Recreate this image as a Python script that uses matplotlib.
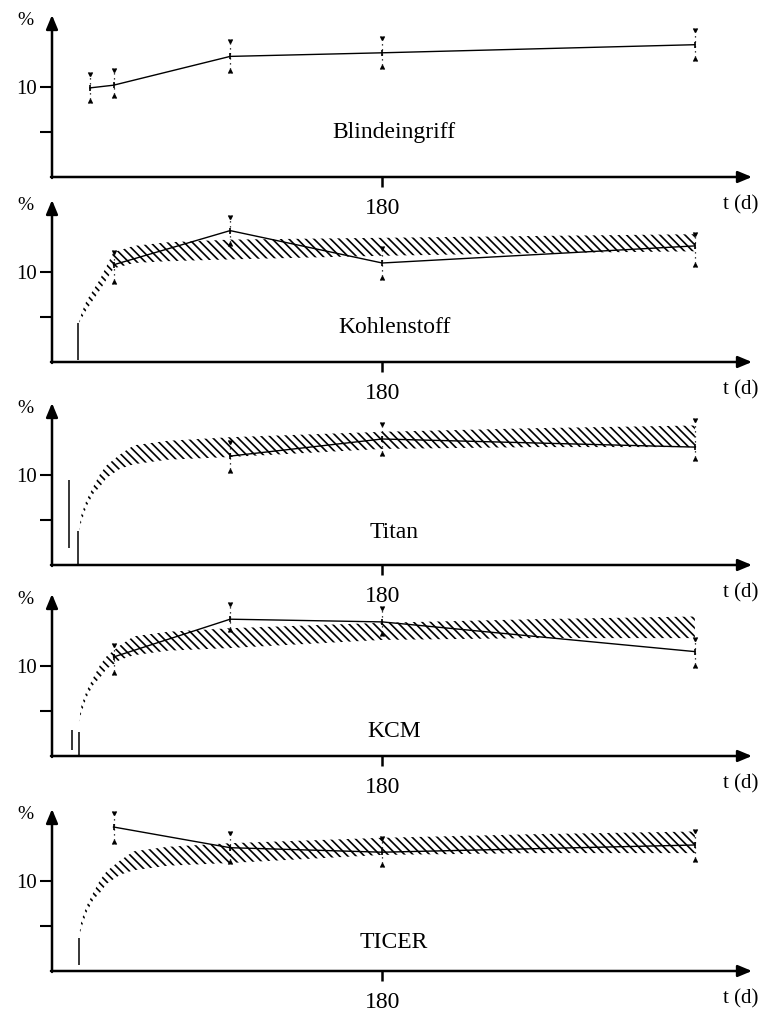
import matplotlib
matplotlib.use("Agg")
import matplotlib.pyplot as plt

plt.rcParams.update({"font.family": ["Liberation Serif", "DejaVu Serif"],
                     "hatch.linewidth": 1.2})

NAMES = ["Blindeingriff", "Kohlenstoff", "Titan", "KCM", "TICER"]

# days after implantation, values in %
BLIND_T = [7, 21, 90, 180, 365]
BLIND_Y = [9.9, 10.2, 13.4, 13.8, 14.7]
BLIND_HI = [11.2, 11.7, 14.9, 15.2, 16.1]
BLIND_LO = [8.7, 9.2, 12.0, 12.4, 13.3]

KOHLE_T = [21, 90, 180, 365]
KOHLE_Y = [10.8, 14.6, 11.0, 12.9]
KOHLE_HI = [12.0, 15.9, 12.5, 14.0]
KOHLE_LO = [9.1, 13.3, 9.6, 11.0]

TITAN_T = [90, 180, 365]
TITAN_Y = [12.1, 14.0, 13.1]
TITAN_HI = [13.5, 15.5, 15.9]
TITAN_LO = [10.7, 12.6, 12.0]

KCM_T = [21, 90, 180, 365]
KCM_Y = [11.0, 15.2, 14.9, 11.6]
KCM_HI = [12.1, 16.7, 16.2, 12.8]
KCM_LO = [9.4, 14.2, 13.8, 10.2]

TICER_T = [21, 90, 180, 365]
TICER_Y = [16.0, 13.7, 13.2, 14.0]
TICER_HI = [17.3, 15.1, 14.6, 15.3]
TICER_LO = [14.6, 12.3, 12.0, 12.6]

# hatched reference band
BAND_T = [0.5, 2, 5, 9, 13, 17, 25, 33, 53, 90, 180, 270, 365]
BAND_HI = [3.8, 5.6, 7.2, 8.7, 10.1, 11.1, 12.3, 13.3, 13.8, 14.2, 14.8, 15.2, 15.5]
BAND_LO = [3.8, 4.8, 6.5, 7.9, 8.7, 9.7, 10.7, 11.2, 11.7, 12.0, 12.9, 13.1, 13.1]

KOHLE_BAND_T = [0.5, 2, 5, 13, 21, 33, 53, 90, 180, 270, 365]
KOHLE_BAND_HI = [4.3, 5.4, 6.8, 9.2, 12.2, 12.9, 13.3, 13.6, 13.8, 14.0, 14.2]
KOHLE_BAND_LO = [4.3, 4.8, 5.8, 8.0, 10.4, 11.0, 11.2, 11.4, 11.8, 12.1, 12.3]

# vertical start strokes (t, from, to)
KOHLE_STEMS = [(0, 0.2, 4.3)]
TITAN_STEMS = [(0, 0.0, 3.8), (-5.3, 1.9, 9.4)]
KCM_STEMS = [(0.6, 0.1, 2.7), (-3.6, 0.7, 2.9)]
TICER_STEMS = [(0.6, 0.7, 3.7)]

PANELS = [
    (BLIND_T, BLIND_Y, BLIND_HI, BLIND_LO, None, []),
    (KOHLE_T, KOHLE_Y, KOHLE_HI, KOHLE_LO,
     (KOHLE_BAND_T, KOHLE_BAND_LO, KOHLE_BAND_HI), KOHLE_STEMS),
    (TITAN_T, TITAN_Y, TITAN_HI, TITAN_LO, (BAND_T, BAND_LO, BAND_HI), TITAN_STEMS),
    (KCM_T, KCM_Y, KCM_HI, KCM_LO, (BAND_T, BAND_LO, BAND_HI), KCM_STEMS),
    (TICER_T, TICER_Y, TICER_HI, TICER_LO, (BAND_T, BAND_LO, BAND_HI), TICER_STEMS),
]

# layout (pixels)
W, H = 767, 1011
AXIS_Y = [177, 362, 565, 756, 971]
NAME_Y = [4.9, 3.8, 3.6, 2.7, 3.2]
ARROW = dict(arrowstyle="-|>,head_length=0.6,head_width=0.25", lw=1.8,
             color="k", mutation_scale=14, shrinkA=0, shrinkB=0)

fig = plt.figure(figsize=(W / 100, H / 100), dpi=100)

for i, (t, y, hi, lo, band, stems) in enumerate(PANELS):
    ax = fig.add_axes([52 / W, 1 - AXIS_Y[i] / H, 700 / W, 162 / H])
    ax.set_xlim(-15.4, 398.8)
    ax.set_ylim(0, 18)
    for s in ax.spines.values():
        s.set_visible(False)
    ax.patch.set_alpha(0)

    ax.annotate("", xy=(1, 0), xytext=(-0.0015, 0), xycoords="axes fraction",
                arrowprops=ARROW)
    ax.annotate("", xy=(0, 1), xytext=(0, -0.006), xycoords="axes fraction",
                arrowprops=ARROW)

    ax.set_yticks([5, 10], ["", "10"])
    ax.tick_params(axis="y", length=8.5, width=1.5, pad=2, labelsize=15)
    ax.set_xticks([180], ["180"])
    ax.tick_params(axis="x", length=7, width=1.8, pad=8, labelsize=17)

    if band is not None:
        bt, blo, bhi = band
        ax.fill_between(bt, blo, bhi, facecolor="none", edgecolor="k",
                        hatch="\\\\\\\\", lw=0)
    for st, s0, s1 in stems:
        ax.vlines(st, s0, s1, colors="k", lw=1.1, clip_on=False)

    ax.plot(t, y, "k-", lw=1.0)
    ax.vlines(t, lo, hi, colors="k", linestyles=(0, (1, 3)), lw=0.9)
    ax.plot(t, hi, ls="none", marker=7, ms=3.5, color="k")
    ax.plot(t, lo, ls="none", marker=6, ms=3.5, color="k")
    ax.plot(t, y, ls="none", marker="|", ms=5, mew=1.2, color="k")

    ax.text(187, NAME_Y[i], NAMES[i], ha="center", va="center", fontsize=17)
    ax.text(-31, 17.4, "%", ha="center", va="center", fontsize=14,
            clip_on=False)
    ax.annotate("t (d)", xy=(392, 0), xycoords="data", xytext=(0, -28),
                textcoords="offset pixels", ha="center", va="center",
                fontsize=15)

fig.savefig("out.png", dpi=100)
